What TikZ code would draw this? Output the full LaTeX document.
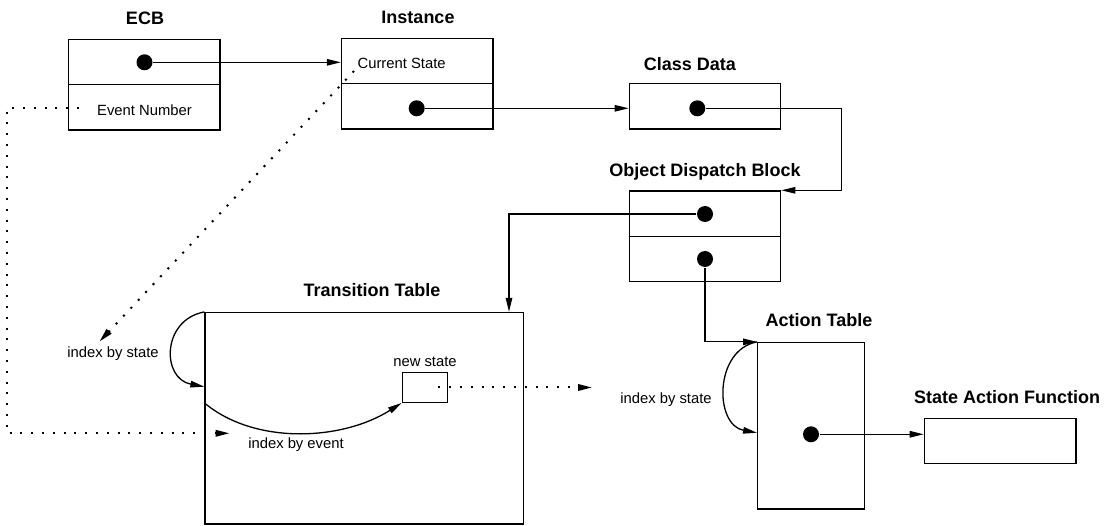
\documentclass[tikz,border=0pt]{standalone}
\usepackage{fontspec}
\setmainfont{Liberation Sans}
\usetikzlibrary{arrows.meta,calc}

\begin{document}
\begin{tikzpicture}[
  x=1pt, y=-1pt,
  line width=1.3pt,
  box/.style={draw, rectangle, inner sep=0pt},
  dot/.style={circle, fill=black, draw=none, inner sep=0pt, minimum size=16pt},
  title/.style={inner sep=0pt, anchor=base, font=\fontsize{18}{20}\selectfont\bfseries},
  lbl/.style={inner sep=0pt, anchor=base, font=\fontsize{14.8}{17}\selectfont},
  ptr/.style={-{Triangle[length=14pt,width=6.5pt]}},
  idx/.style={ptr, dash pattern=on 2pt off 8.8pt, line width=2pt},
]
\useasboundingbox (0,0) rectangle (1109,526);

% --- record boxes ---
\node[box, minimum width=151.5pt, minimum height=90.5pt] (ecb)  at (144.25,84.75) {};
\node[box, minimum width=151.5pt, minimum height=90.5pt] (inst) at (417.25,83.75) {};
\node[box, minimum width=151.4pt, minimum height=45.7pt] (cd)   at (705,106.2) {};
\node[box, minimum width=151.4pt, minimum height=90.7pt] (odb)  at (705,236.3) {};
\node[box, minimum width=318.3pt, minimum height=211.5pt] (tt)  at (364.2,418.3) {};
\node[box, minimum width=45.4pt, minimum height=29.6pt] (ns)    at (425,387.5) {};
\node[box, minimum width=106.6pt, minimum height=166.5pt] (at)  at (811,425.75) {};
\node[box, minimum width=151.7pt, minimum height=45pt] (saf)    at (1000.2,440.8) {};

% field separators
\draw (ecb.west) -- (ecb.east);
\draw (inst.west) -- (inst.east);
\draw (odb.west) -- (odb.east);

% --- titles ---
\node[title] (tecb)  at (145,25)    {ECB};
\node[title] (tinst) at (418,24)    {Instance};
\node[title] (tcd)   at (690,71)    {Class Data};
\node[title] (todb)  at (705,176.5) {Object Dispatch Block};
\node[title] (ttt)   at (372,297)   {Transition Table};
\node[title] (tat)   at (819,327)   {Action Table};
\node[title] (tsaf)  at (1007,403.5){State Action Function};

% --- field labels ---
\node[lbl] (evnum)  at (144.5,116) {Event Number};
\node[lbl, anchor=base west] (cstate) at (357,69) {Current State};
\node[lbl] (ibs1) at (113,358) {index by state};
\node[lbl] (nsl)  at (425,367) {new state};
\node[lbl] (ibe)  at (296,449) {index by event};
\node[lbl] (ibs2) at (666,404) {index by state};

% --- pointer dots ---
\node[dot] (ecbdot)  at (144.5,62.3) {};
\node[dot] (instdot) at (416.7,108.3) {};
\node[dot] (cddot)   at (697.3,108.3) {};
\node[dot] (odbdotA) at (705,214) {};
\node[dot] (odbdotB) at (705,259) {};
\node[dot] (atdot)   at (811,434.3) {};

% --- pointers ---
\draw[ptr] (ecbdot) -- (ecbdot -| inst.west);
\draw[ptr] (instdot) -- (instdot -| cd.west);
\draw[ptr] (cddot) -| ([xshift=60.3pt]odb.north east) -- (odb.north east);
\draw[ptr] (odbdotA) -| ([xshift=-15pt]tt.north east);
\draw[ptr] (odbdotB) |- (at.north west);
\draw[ptr] (atdot) -- (atdot -| saf.west);

% --- indexing arcs ---
\coordinate (ttstate) at ([yshift=-74.8pt]tt.north west);
\coordinate (ttevent) at ([yshift=-91pt]tt.north west);
\coordinate (atstate) at ([yshift=-91pt]at.north west);
\draw[ptr] (tt.north west) .. controls +(-43,8) and +(-43,-8) .. (ttstate);
\draw[ptr] (ttevent) .. controls +(50,42) and +(-60,38) .. (ns.south west);
\draw[ptr] (at.north west) .. controls +(-43,8) and +(-43,-8) .. (atstate);

% --- dotted index flows ---
\coordinate (nsout) at ([xshift=-10pt]ns.east);
\coordinate (nsend) at (592,387.5);
\draw[idx] (nsout) -- (nsend);

\coordinate (evsrc) at (79,107.7);
\coordinate (evdst) at (229.5,433.3);
\draw[idx] (evsrc) -- ++(-71.7,0) |- (evdst);

\coordinate (cssrc) at (354,71);
\coordinate (csdst) at (99.5,341.5);
\draw[idx] (cssrc) -- (csdst);
\end{tikzpicture}
\end{document}
